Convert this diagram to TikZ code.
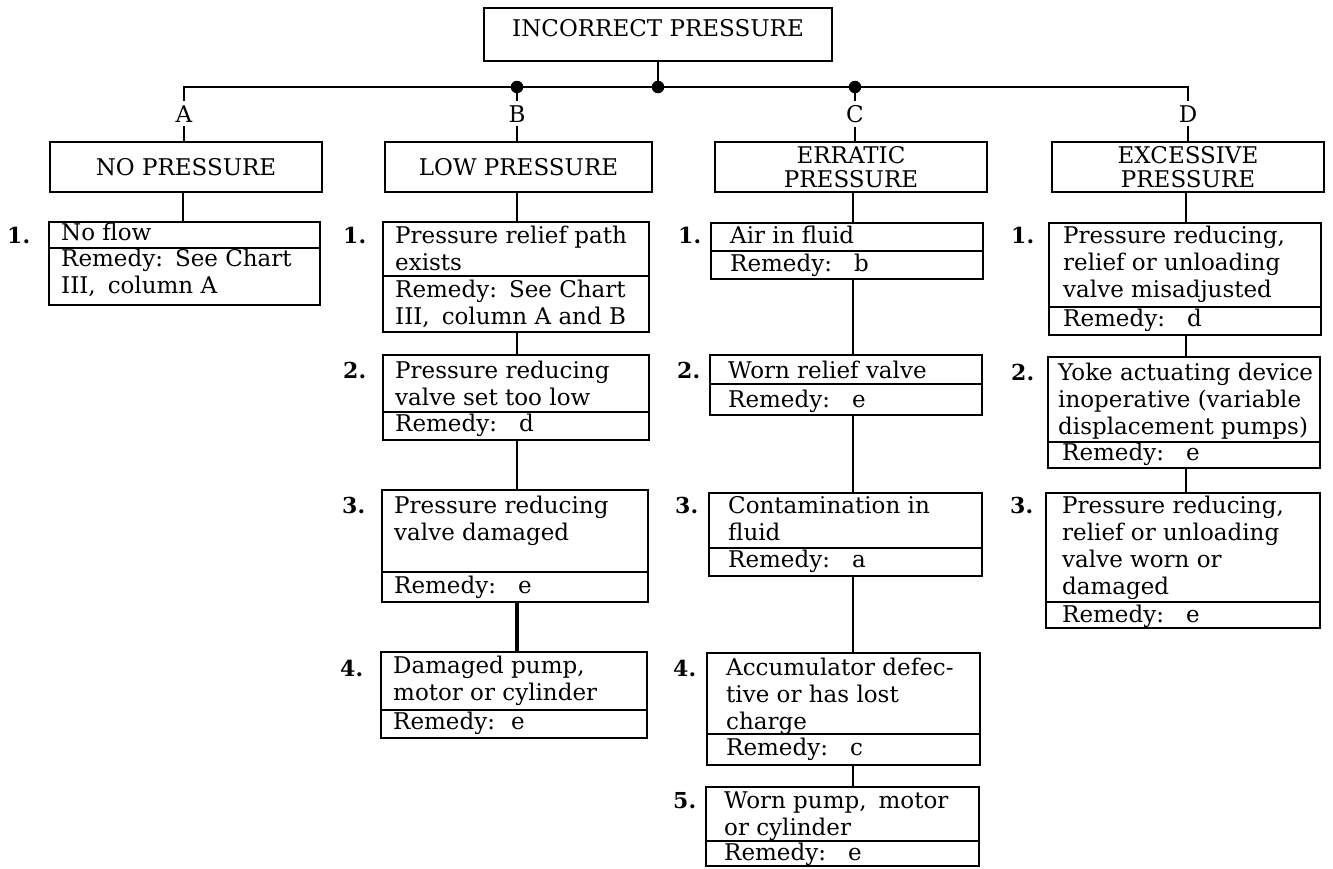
\documentclass[tikz,border=0pt]{standalone}
\usepackage{fontspec}
\setmainfont{DejaVu Serif}
\newcommand\ttx[1]{\parbox[t]{262pt}{\raggedright #1}}
\newcommand\rem[1]{Remedy:\hspace{22pt}#1}
\begin{document}
\begin{tikzpicture}[x=1pt,y=-1pt,font=\fontsize{23}{27}\selectfont,
  ln/.style={line width=2.5pt},
  lnthick/.style={line width=3.2pt},
  boxn/.style={draw,line width=2.2pt,inner sep=0pt,outer sep=0pt,anchor=north west,align=center},
  txt/.style={anchor=base west,inner sep=0pt},
  num/.style={anchor=base west,inner sep=0pt,font=\fontsize{22}{27}\selectfont\bfseries},
  lab/.style={anchor=base,inner sep=4pt},
  dot/.style={circle,fill=black,inner sep=0pt,minimum size=12.5pt}]
\useasboundingbox[fill=white] (0,0) rectangle (1333,868);

% top box
\node[boxn,minimum width=348pt,minimum height=53pt] (top) at (484,8) {};
\node[inner sep=0pt] (toptxt) at ([yshift=6pt]top.center) {INCORRECT PRESSURE};

% bus
\node[dot] (dB) at (517,87) {};
\node[dot] (dM) at (658,87) {};
\node[dot] (dC) at (855,87) {};
\node[lab] (lA) at (184,122) {A};
\node[lab] (lB) at (517,122) {B};
\node[lab] (lC) at (855,122) {C};
\node[lab] (lD) at (1188,122) {D};
\draw[ln] (top.south -| dM) -- (dM.center);
\draw[ln] (lA.north) -- (lA.north |- dM) -- (lD.north |- dM) -- (lD.north);
\draw[ln] (dB.center) -- (lB.north);
\draw[ln] (dC.center) -- (lC.north);

% headers
\node[boxn,minimum width=272pt,minimum height=50pt] (hA) at (50,142) {NO PRESSURE};
\node[boxn,minimum width=267pt,minimum height=50pt] (hB) at (385,142) {LOW PRESSURE};
\node[boxn,minimum width=272pt,minimum height=50pt] (hC) at (715,142) {ERRATIC\\[-3pt]PRESSURE};
\node[boxn,minimum width=272pt,minimum height=50pt] (hD) at (1052,142) {EXCESSIVE\\[-3pt]PRESSURE};
\draw[ln] (lA.south) -- (hA.north -| lA.south);
\draw[ln] (lB.south) -- (hB.north -| lB.south);
\draw[ln] (lC.south) -- (hC.north -| lC.south);
\draw[ln] (lD.south) -- (hD.north -| lD.south);

% column x
\coordinate (cA) at (183,0);
\coordinate (cB) at (517,0);
\coordinate (cC) at (853,0);
\coordinate (cD) at (1186,0);

% ---------- column A ----------
\node[boxn,minimum width=271pt,minimum height=26pt] (A1) at (49,222) {};
\node[boxn,anchor=north,minimum width=271pt,minimum height=57pt] (A1r) at (A1.south) {};
\node[num] (nA1) at (7,243) {1.};
\node[txt] (A1t) at (61,240) {\ttx{No flow}};
\node[txt] (A1rt) at (61,266) {\ttx{Remedy:\hspace{12pt}See Chart\\III,\hspace{12pt}column A}};
\draw[ln] (hA.south -| cA) -- (A1.north -| cA);

% ---------- column B ----------
\node[boxn,minimum width=266pt,minimum height=54pt] (B1) at (383,222) {};
\node[boxn,anchor=north,minimum width=266pt,minimum height=56pt] (B1r) at (B1.south) {};
\node[num] (nB1) at (343,243) {1.};
\node[txt] (B1t) at (395,243) {\ttx{Pressure relief path\\exists}};
\node[txt] (B1rt) at (395,297) {\ttx{Remedy:\hspace{12pt}See Chart\\III,\hspace{12pt}column A and B}};

\node[boxn,minimum width=266pt,minimum height=57pt] (B2) at (383,355) {};
\node[boxn,anchor=north,minimum width=266pt,minimum height=28pt] (B2r) at (B2.south) {};
\node[num] (nB2) at (343,378) {2.};
\node[txt] (B2t) at (395,378) {\ttx{Pressure reducing\\valve set too low}};
\node[txt] (B2rt) at (395,431) {\rem{d}};

\node[boxn,minimum width=266pt,minimum height=82pt] (B3) at (382,490) {};
\node[boxn,anchor=north,minimum width=266pt,minimum height=30pt] (B3r) at (B3.south) {};
\node[num] (nB3) at (342,513) {3.};
\node[txt] (B3t) at (394,513) {\ttx{Pressure reducing\\valve damaged}};
\node[txt] (B3rt) at (394,593) {\rem{e}};

\node[boxn,minimum width=266pt,minimum height=58pt] (B4) at (381,652) {};
\node[boxn,anchor=north,minimum width=266pt,minimum height=28pt] (B4r) at (B4.south) {};
\node[num] (nB4) at (340,676) {4.};
\node[txt] (B4t) at (393,673) {\ttx{Damaged pump,\\motor or cylinder}};
\node[txt] (B4rt) at (393,729) {Remedy:\hspace{16pt}e};

\draw[ln] (hB.south -| cB) -- (B1.north -| cB);
\draw[ln] (B1r.south -| cB) -- (B2.north -| cB);
\draw[ln] (B2r.south -| cB) -- (B3.north -| cB);
\draw[lnthick] (B3r.south -| cB) -- (B4.north -| cB);

% ---------- column C ----------
\node[boxn,minimum width=272pt,minimum height=28pt] (C1) at (711,223) {};
\node[boxn,anchor=north,minimum width=272pt,minimum height=28pt] (C1r) at (C1.south) {};
\node[num] (nC1) at (678,243) {1.};
\node[txt] (C1t) at (730,243) {\ttx{Air in fluid}};
\node[txt] (C1rt) at (730,271) {\rem{b}};

\node[boxn,minimum width=272pt,minimum height=29pt] (C2) at (710,355) {};
\node[boxn,anchor=north,minimum width=272pt,minimum height=31pt] (C2r) at (C2.south) {};
\node[num] (nC2) at (677,378) {2.};
\node[txt] (C2t) at (728,378) {\ttx{Worn relief valve}};
\node[txt] (C2rt) at (728,407) {\rem{e}};

\node[boxn,minimum width=273pt,minimum height=55pt] (C3) at (709,493) {};
\node[boxn,anchor=north,minimum width=273pt,minimum height=28pt] (C3r) at (C3.south) {};
\node[num] (nC3) at (675,513) {3.};
\node[txt] (C3t) at (728,513) {\ttx{Contamination in\\fluid}};
\node[txt] (C3rt) at (728,567) {\rem{a}};

\node[boxn,minimum width=273pt,minimum height=81pt] (C4) at (707,653) {};
\node[boxn,anchor=north,minimum width=273pt,minimum height=31pt] (C4r) at (C4.south) {};
\node[num] (nC4) at (673,676) {4.};
\node[txt] (C4t) at (726,675) {\ttx{Accumulator defec-\\tive or has lost\\charge}};
\node[txt] (C4rt) at (726,755) {\rem{c}};

\node[boxn,minimum width=273pt,minimum height=54pt] (C5) at (706,787) {};
\node[boxn,anchor=north,minimum width=273pt,minimum height=25pt] (C5r) at (C5.south) {};
\node[num] (nC5) at (673,808) {5.};
\node[txt] (C5t) at (724,808) {\ttx{Worn pump,\hspace{12pt}motor\\or cylinder}};
\node[txt] (C5rt) at (724,860) {\rem{e}};

\draw[ln] (hC.south -| cC) -- (C1.north -| cC);
\draw[ln] (C1r.south -| cC) -- (C2.north -| cC);
\draw[ln] (C2r.south -| cC) -- (C3.north -| cC);
\draw[ln] (C3r.south -| cC) -- (C4.north -| cC);
\draw[ln] (C4r.south -| cC) -- (C5.north -| cC);

% ---------- column D ----------
\node[boxn,minimum width=272pt,minimum height=84pt] (D1) at (1049,223) {};
\node[boxn,anchor=north,minimum width=272pt,minimum height=28pt] (D1r) at (D1.south) {};
\node[num] (nD1) at (1011,243) {1.};
\node[txt] (D1t) at (1063,243) {\ttx{Pressure reducing,\\relief or unloading\\valve misadjusted}};
\node[txt] (D1rt) at (1063,326) {\rem{d}};

\node[boxn,minimum width=272pt,minimum height=85pt] (D2) at (1048,357) {};
\node[boxn,anchor=north,minimum width=272pt,minimum height=26pt] (D2r) at (D2.south) {};
\node[num] (nD2) at (1011,380) {2.};
\node[txt] (D2t) at (1058,380) {\ttx{Yoke actuating device\\inoperative (variable\\displacement pumps)}};
\node[txt] (D2rt) at (1062,460) {\rem{e}};

\node[boxn,minimum width=274pt,minimum height=109pt] (D3) at (1046,493) {};
\node[boxn,anchor=north,minimum width=274pt,minimum height=26pt] (D3r) at (D3.south) {};
\node[num] (nD3) at (1010,513) {3.};
\node[txt] (D3t) at (1062,513) {\ttx{Pressure reducing,\\relief or unloading\\valve worn or\\damaged}};
\node[txt] (D3rt) at (1062,622) {\rem{e}};

\draw[ln] (hD.south -| cD) -- (D1.north -| cD);
\draw[ln] (D1r.south -| cD) -- (D2.north -| cD);
\draw[ln] (D2r.south -| cD) -- (D3.north -| cD);
\end{tikzpicture}
\end{document}
